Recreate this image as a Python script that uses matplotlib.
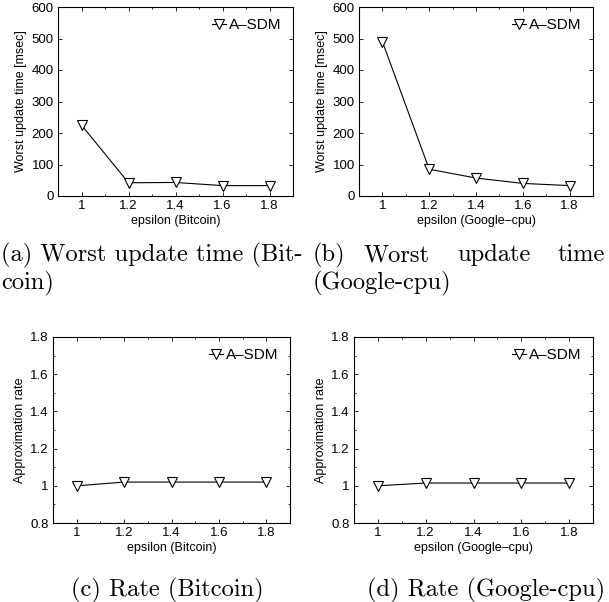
import matplotlib
matplotlib.use("Agg")
import matplotlib.pyplot as plt
from matplotlib.ticker import MultipleLocator

plt.rcParams['font.family'] = ['Liberation Sans', 'DejaVu Sans']

epsilon = [1.0, 1.2, 1.4, 1.6, 1.8]
worst_bitcoin = [225, 42, 43, 33, 33]
worst_google = [490, 85, 57, 40, 33]
rate_bitcoin = [1.0, 1.02, 1.02, 1.02, 1.02]
rate_google = [1.0, 1.015, 1.015, 1.015, 1.015]

W, H = 609, 602
fig = plt.figure(figsize=(W / 100, H / 100), dpi=100)

# axes boxes in pixels: left, top, right, bottom
boxes = [(58, 7, 293, 196), (359, 7, 593, 196),
         (53, 337, 290, 523), (354, 337, 593, 523)]
series = [worst_bitcoin, worst_google, rate_bitcoin, rate_google]
xlabels = ["epsilon (Bitcoin)", "epsilon (Google\u2013cpu)",
           "epsilon (Bitcoin)", "epsilon (Google\u2013cpu)"]

for i, ((l, t, r, b), y) in enumerate(zip(boxes, series)):
    ax = fig.add_axes([l / W, 1 - b / H, (r - l) / W, (b - t) / H])
    ax.plot(epsilon, y, color='black', lw=0.8, marker='v', ms=7,
            mfc='white', mec='black', mew=0.8, label="A\u2013SDM")
    ax.set_xlim(0.9, 1.9)
    ax.set_xticks(epsilon)
    ax.set_xticklabels(["1", "1.2", "1.4", "1.6", "1.8"])
    ax.xaxis.set_minor_locator(MultipleLocator(0.1))
    if i < 2:
        ax.set_ylim(0, 600)
        ax.set_yticks(range(0, 601, 100))
        ax.set_ylabel("Worst update time [msec]", fontsize=9, labelpad=3)
    else:
        ax.set_ylim(0.8, 1.8)
        ax.set_yticks([0.8, 1.0, 1.2, 1.4, 1.6, 1.8])
        ax.set_yticklabels(["0.8", "1", "1.2", "1.4", "1.6", "1.8"])
        ax.yaxis.set_minor_locator(MultipleLocator(0.1))
        ax.set_ylabel("Approximation rate", fontsize=9, labelpad=3)
    ax.set_xlabel(xlabels[i], fontsize=9, labelpad=2)
    ax.tick_params(which='both', direction='in', top=True, right=True,
                   labelsize=9.5, pad=3, width=0.6)
    ax.tick_params(which='major', length=3)
    ax.tick_params(which='minor', length=1.5)
    for s in ax.spines.values():
        s.set_linewidth(0.8)
    ax.legend(loc='upper right', frameon=False, fontsize=11, handlelength=0.9,
              handletextpad=0.2, borderaxespad=0.35, markerscale=1.0)

cap = dict(fontfamily='cmr10', fontsize=17.6, va='center')
# caption (a), justified over two lines
fig.text(1 / W, 1 - 255 / H, "(a) Worst update time (Bit-", ha='left', **cap)
fig.text(1 / W, 1 - 283 / H, "coin)", ha='left', **cap)
# caption (b), justified words
fig.text(313 / W, 1 - 255 / H, "(b)", ha='left', **cap)
fig.text(397 / W, 1 - 255 / H, "Worst", ha='center', **cap)
fig.text(494 / W, 1 - 255 / H, "update", ha='center', **cap)
fig.text(605 / W, 1 - 255 / H, "time", ha='right', **cap)
fig.text(313 / W, 1 - 283 / H, "(Google-cpu)", ha='left', **cap)
# captions (c), (d)
fig.text(167 / W, 1 - 590 / H, "(c) Rate (Bitcoin)", ha='center', **cap)
fig.text(605 / W, 1 - 590 / H, "(d) Rate (Google-cpu)", ha='right', **cap)

fig.savefig("out.png", dpi=100)
